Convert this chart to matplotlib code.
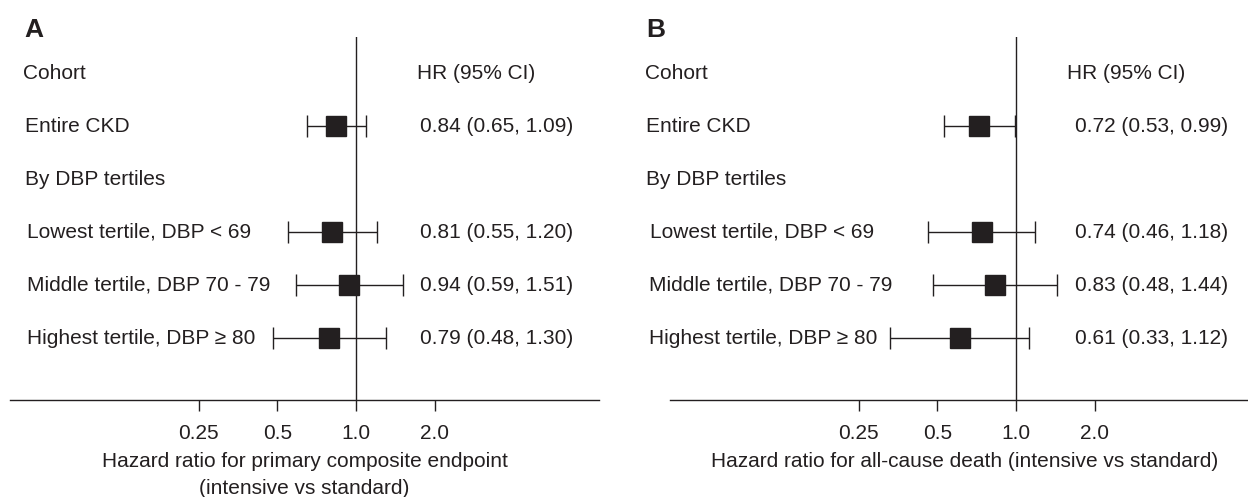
import matplotlib
matplotlib.use('Agg')
import matplotlib.pyplot as plt
import matplotlib.transforms as mtransforms
import numpy as np

plt.rcParams['font.family'] = ['Liberation Sans', 'DejaVu Sans']

# ---------------- data ----------------
row_labels = ["Cohort", "Entire CKD", "By DBP tertiles",
              "Lowest tertile, DBP < 69", "Middle tertile, DBP 70 - 79",
              "Highest tertile, DBP \u2265 80"]
data_rows = [1, 3, 4, 5]
hr_a = [0.84, 0.81, 0.94, 0.79]
lo_a = [0.65, 0.55, 0.59, 0.48]
hi_a = [1.09, 1.20, 1.51, 1.30]
hr_b = [0.72, 0.74, 0.83, 0.61]
lo_b = [0.53, 0.46, 0.48, 0.33]
hi_b = [0.99, 1.18, 1.44, 1.12]
tick_vals = [0.25, 0.5, 1.0, 2.0]
tick_labels = ["0.25", "0.5", "1.0", "2.0"]
header_right = "HR (95% CI)"
panel_letters = ["A", "B"]
xlabels = ["Hazard ratio for primary composite endpoint\n(intensive vs standard)",
           "Hazard ratio for all-cause death (intensive vs standard)"]

# ---------------- layout ----------------
W, H = 1248, 497
DPI = 100
col = '#231f20'
FS = 15

fig = plt.figure(figsize=(W / DPI, H / DPI), dpi=DPI)

ax_w_px = 589
ax_top_px, ax_bot_px = 37, 400
px_per_doubling = 78.6
row0_px, row_step_px = 73.5, 52.9

panels = [
    dict(left=10, one=356, letter_x=24, lab_x=[23, 25, 25, 27, 27, 27],
         hdr_x=417, val_x=420, hr=hr_a, lo=lo_a, hi=hi_a),
    dict(left=670, one=1016, letter_x=646, lab_x=[645, 646, 646, 650, 649, 649],
         hdr_x=1067, val_x=1075, hr=hr_b, lo=lo_b, hi=hi_b),
]

for i, p in enumerate(panels):
    ax = fig.add_axes([p['left'] / W, (H - ax_bot_px) / H,
                       ax_w_px / W, (ax_bot_px - ax_top_px) / H])
    ax.set_xscale('log', base=2)
    xl = 2 ** ((p['left'] - p['one']) / px_per_doubling)
    xr = 2 ** ((p['left'] + ax_w_px - p['one']) / px_per_doubling)
    ax.set_xlim(xl, xr)
    y_top = (ax_top_px - row0_px) / row_step_px
    y_bot = (ax_bot_px - row0_px) / row_step_px
    ax.set_ylim(y_bot, y_top)

    for s in ['top', 'left', 'right']:
        ax.spines[s].set_visible(False)
    ax.spines['bottom'].set_color(col)
    ax.spines['bottom'].set_linewidth(1.0)
    ax.set_yticks([])
    ax.set_xticks(tick_vals)
    ax.set_xticklabels(tick_labels)
    ax.xaxis.set_minor_locator(matplotlib.ticker.NullLocator())
    ax.tick_params(axis='x', length=8, width=1.0, color=col, labelcolor=col,
                   labelsize=FS, pad=9.5)
    ax.set_xlabel(xlabels[i], fontsize=FS, color=col, linespacing=1.55, labelpad=6)
    ax.patch.set_alpha(0)

    ax.axvline(1.0, color=col, lw=1.0, zorder=1)

    hr = np.array(p['hr'])
    lo = np.array(p['lo'])
    hi = np.array(p['hi'])
    ax.errorbar(hr, data_rows, xerr=[hr - lo, hi - hr], fmt='s', ms=14,
                mfc=col, mec=col, ecolor=col, elinewidth=1.0, capsize=7.8,
                capthick=1.0, zorder=3, clip_on=False)

    def fx(px):
        return (px - p['left']) / ax_w_px

    trans = mtransforms.blended_transform_factory(ax.transAxes, ax.transData)
    for r, lab in enumerate(row_labels):
        ax.text(fx(p['lab_x'][r]), r, lab, transform=trans, fontsize=FS,
                color=col, ha='left', va='center', clip_on=False)
    ax.text(fx(p['hdr_x']), 0, header_right, transform=trans, fontsize=FS,
            color=col, ha='left', va='center', clip_on=False)
    for k, r in enumerate(data_rows):
        s = f"{hr[k]:.2f} ({lo[k]:.2f}, {hi[k]:.2f})"
        ax.text(fx(p['val_x']), r, s, transform=trans, fontsize=FS,
                color=col, ha='left', va='center', clip_on=False)

    fig.text(p['letter_x'] / W, 1 - 37 / H, panel_letters[i], fontsize=19,
             fontweight='bold', color=col, ha='left', va='baseline')

fig.savefig('out.png', dpi=DPI)
